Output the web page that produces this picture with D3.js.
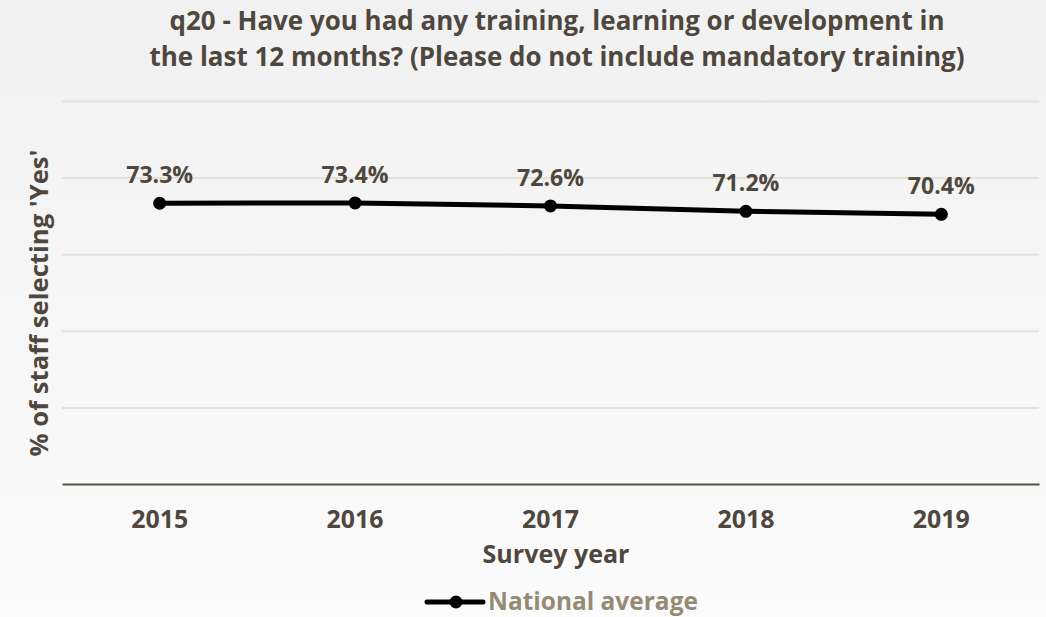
<!DOCTYPE html>
<html>
<head>
<meta charset="utf-8">
<script src="https://cdn.jsdelivr.net/npm/d3@7"></script>
<style>
  html, body { margin: 0; padding: 0; }
  body { width: 1046px; height: 617px; overflow: hidden; }
  text { font-family: "Open Sans", "Noto Sans", sans-serif; font-weight: 700; }
</style>
</head>
<body>
<svg id="chart" width="1046" height="617"></svg>
<script>
const years = ["2015", "2016", "2017", "2018", "2019"];
const nationalAverage = [73.3, 73.4, 72.6, 71.2, 70.4];
const gridValues = [20, 40, 60, 80, 100];
const titleLines = [
  "q20 - Have you had any training, learning or development in",
  "the last 12 months? (Please do not include mandatory training)"
];
const seriesName = "National average";

const W = 1046, H = 617;
const margin = { left: 62, right: 7, top: 101, bottom: 133 };
const textColor = "#4f473d";

const svg = d3.select("#chart");

// pick a font size so that the given text spans the wanted width
function fitSize(str, width) {
  const probe = svg.append("text").style("font-size", "100px").text(str);
  const w = probe.node().getComputedTextLength();
  probe.remove();
  return 100 * width / w;
}
const titleSize = fitSize(titleLines[0], 775);
const yearSize = fitSize("2015", 57);
const labelSize = fitSize("73.3%", 67);
const axisTitleSize = fitSize("Survey year", 147);
const yTitleSize = fitSize("% of staff selecting 'Yes'", 307);
const legendSize = fitSize(seriesName, 210);

// soft vertical background gradient
const defs = svg.append("defs");
const grad = defs.append("linearGradient").attr("id", "bg").attr("x1", 0).attr("y1", 0).attr("x2", 0).attr("y2", 1);
grad.append("stop").attr("offset", "0%").attr("stop-color", "#f1f1f1");
grad.append("stop").attr("offset", "100%").attr("stop-color", "#fbfbfb");
svg.insert("rect", ":first-child").attr("width", W).attr("height", H).attr("fill", "url(#bg)");

const x = d3.scaleBand().domain(years).range([margin.left, W - margin.right]);
const y = d3.scaleLinear().domain([0, 100]).range([H - margin.bottom, margin.top]);

// horizontal gridlines
svg.append("g")
  .attr("transform", `translate(${margin.left},0)`)
  .call(d3.axisLeft(y).tickValues(gridValues).tickSize(-(W - margin.left - margin.right)).tickFormat(""))
  .call(g => g.select(".domain").remove())
  .call(g => g.selectAll(".tick line").attr("stroke", "#e5e1da").attr("stroke-width", 2));

// x axis with year labels
svg.append("g")
  .attr("transform", `translate(0,${y(0)})`)
  .call(d3.axisBottom(x).tickSize(0).tickPadding(26))
  .call(g => g.select(".domain").attr("stroke", "#5a5247").attr("stroke-width", 2))
  .call(g => g.selectAll(".tick text")
    .attr("fill", textColor)
    .style("font-family", "'Open Sans', sans-serif")
    .style("font-size", yearSize + "px")
    .style("font-weight", 700));

// title, two lines
svg.append("g").selectAll("text").data(titleLines).join("text")
  .attr("x", 557).attr("y", (d, i) => 30 + i * 36)
  .attr("text-anchor", "middle")
  .attr("fill", textColor)
  .style("font-size", titleSize + "px")
  .text(d => d);

// axis titles
svg.append("text")
  .attr("x", 556).attr("y", 563)
  .attr("text-anchor", "middle")
  .attr("fill", textColor)
  .style("font-size", axisTitleSize + "px")
  .text("Survey year");

svg.append("text")
  .attr("transform", `translate(48,303) rotate(-90)`)
  .attr("text-anchor", "middle")
  .attr("fill", textColor)
  .style("font-size", yTitleSize + "px")
  .text("% of staff selecting 'Yes'");

// series line
const cx = d => x(d.year) + x.bandwidth() / 2;
const pts = years.map((yr, i) => ({ year: yr, value: nationalAverage[i] }));

svg.append("path")
  .datum(pts)
  .attr("fill", "none")
  .attr("stroke", "#000")
  .attr("stroke-width", 5)
  .attr("stroke-linejoin", "round")
  .attr("d", d3.line().x(cx).y(d => y(d.value)));

svg.append("g").selectAll("circle").data(pts).join("circle")
  .attr("cx", cx).attr("cy", d => y(d.value)).attr("r", 6.5).attr("fill", "#000");

// value labels
svg.append("g").selectAll("text").data(pts).join("text")
  .attr("x", cx).attr("y", d => y(d.value) - 20)
  .attr("text-anchor", "middle")
  .attr("fill", textColor)
  .style("font-size", labelSize + "px")
  .text(d => d.value.toFixed(1) + "%");

// legend
const lg = svg.append("g").attr("transform", "translate(0,602)");
lg.append("line").attr("x1", 427).attr("x2", 483).attr("y1", 0).attr("y2", 0)
  .attr("stroke", "#000").attr("stroke-width", 5).attr("stroke-linecap", "round");
lg.append("circle").attr("cx", 456).attr("cy", 0).attr("r", 6.5).attr("fill", "#000");
lg.append("text").attr("x", 488).attr("y", 7.5)
  .attr("fill", "#958b74")
  .style("font-size", legendSize + "px")
  .text(seriesName);
</script>
</body>
</html>
